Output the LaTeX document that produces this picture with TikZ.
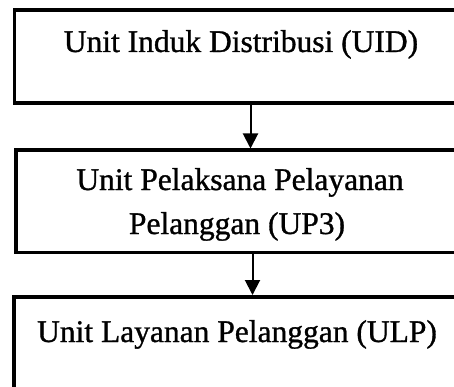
\documentclass[tikz,border=0pt]{standalone}
\usepackage{fontspec}
\setmainfont[FakeBold=1]{Liberation Serif}
\usetikzlibrary{arrows.meta}
\begin{document}
\begin{tikzpicture}[x=1pt,y=-1pt,
  boxnode/.style={draw=black, line width=3.5pt, rectangle, inner sep=0pt, minimum width=455pt, anchor=north west},
  txt/.style={inner sep=0pt, font=\fontsize{31.5}{44}\selectfont, anchor=base, align=center},
  arr/.style={line width=2pt, -{Triangle[length=15pt,width=15pt]}, shorten >=0pt}]
\useasboundingbox (0,0) rectangle (454,387);
\node[boxnode, minimum height=93pt] (uid) at (12.5,8.5) {};
\node[boxnode, minimum height=102pt] (up3) at (14,148.5) {};
\node[boxnode, minimum height=110pt] (ulp) at (12,295) {};
\node[txt] (uidt) at (241,52) {Unit Induk Distribusi (UID)};
\node[txt] (up3a) at (240,190) {Unit Pelaksana Pelayanan};
\node[txt] (up3b) at (237,234) {Pelanggan (UP3)};
\node[txt] (ulpt) at (237,342) {Unit Layanan Pelanggan (ULP)};
\coordinate (a1) at (250.5,0);
\coordinate (a2) at (252.5,0);
\draw[arr] (uid.south -| a1) -- (up3.north -| a1);
\draw[arr] (up3.south -| a2) -- (ulp.north -| a2);
\end{tikzpicture}
\end{document}
